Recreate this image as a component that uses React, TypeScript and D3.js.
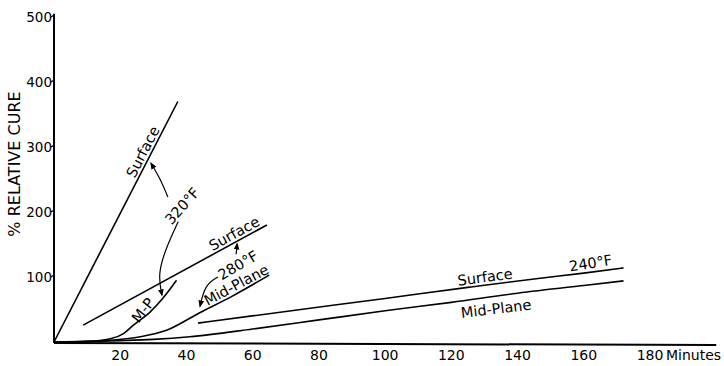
import React, { useEffect, useRef } from "react";
import * as d3 from "d3";

// time in minutes, % relative cure
const xTicks = [20, 40, 60, 80, 100, 120, 140, 160, 180];
const yTicks = [100, 200, 300, 400, 500];

const surface320 = [[0, 0], [37.4, 370]];
const midPlane320 = [[0, 0], [10, 1], [17, 5], [21, 13], [24, 26], [29, 46], [33, 68], [37, 95]];
const surface280 = [[8.8, 26], [64.3, 180]];
const midPlane280 = [[0, 0], [10, 1], [18, 3], [26, 8], [34, 18], [44, 45], [54, 71], [65, 103]];
const surface240 = [[43.5, 29], [70, 47], [100, 67], [125, 84], [145, 97], [160, 106], [172, 114]];
const midPlane240 = [[5, 0], [20, 2], [30, 4], [41, 8], [60, 20], [80, 34], [100, 48], [120, 61], [140, 75], [160, 87], [172, 94]];

// labels: [minutes, %, text, rotation, baseline shift]
const labels = [
  [29, 287, "Surface", -62.8, -3],
  [38.7, 209, "320°F", -48, 5],
  [26.9, 49, "M-P", -52, 5],
  [55.6, 156, "Surface", -28.5, -3],
  [55.6, 118, "280°F", -30, 5],
  [56.2, 77, "Mid-Plane", -28, -3],
  [130.5, 87.6, "Surface", -7.5, -3],
  [162.5, 107.5, "240°F", -9, -4],
  [133.5, 51, "Mid-Plane", -7, 5],
];

// pointer arrows, each from label to curve
const arrows = [
  [[34.4, 223], [32, 252], [29.3, 275]],
  [[37.5, 185], [33.5, 141], [31.4, 103], [32.6, 72]],
  [[55, 135], [55.3, 151]],
  [[49.5, 100], [45.6, 88], [44.1, 55]],
];

export default function App() {
  const ref = useRef<SVGSVGElement>(null);

  useEffect(() => {
    const svg = d3.select(ref.current);
    svg.selectAll("*").remove();

    const x = d3.scaleLinear().domain([0, 180]).range([54, 650]);
    const y = d3.scaleLinear().domain([0, 500]).range([342, 17]);
    const font = "'DejaVu Sans', sans-serif";

    svg.append("defs").append("marker")
      .attr("id", "head")
      .attr("viewBox", "0 0 10 10")
      .attr("refX", 8).attr("refY", 5)
      .attr("markerWidth", 6).attr("markerHeight", 6)
      .attr("orient", "auto")
      .append("path").attr("d", "M0,1 L10,5 L0,9 Z").attr("fill", "#000");

    // axes
    svg.append("line")
      .attr("x1", x(0)).attr("x2", x(0))
      .attr("y1", y(0) + 1).attr("y2", y(505))
      .attr("stroke", "#000").attr("stroke-width", 2);
    svg.append("line")
      .attr("x1", x(0)).attr("x2", x(200))
      .attr("y1", y(0) + 1).attr("y2", y(0) + 3)
      .attr("stroke", "#000").attr("stroke-width", 2);

    const yt = svg.append("g");
    yTicks.forEach((v) => {
      yt.append("line")
        .attr("x1", x(0) - 3).attr("x2", x(0))
        .attr("y1", y(v)).attr("y2", y(v) - 2)
        .attr("stroke", "#000").attr("stroke-width", 1.2);
      yt.append("text")
        .attr("x", x(0) - 2).attr("y", y(v) + 5)
        .attr("text-anchor", "end")
        .attr("font-family", font).attr("font-size", 13.5)
        .text(v);
    });

    xTicks.forEach((v) => {
      svg.append("text")
        .attr("x", x(v)).attr("y", 360)
        .attr("text-anchor", "middle")
        .attr("font-family", font).attr("font-size", 14)
        .text(v);
    });
    svg.append("text")
      .attr("x", x(180) + 16).attr("y", 360)
      .attr("font-family", font).attr("font-size", 14)
      .text("Minutes");

    svg.append("text")
      .attr("transform", `translate(20,${164}) rotate(-90)`)
      .attr("text-anchor", "middle")
      .attr("font-family", font).attr("font-size", 16)
      .text("% RELATIVE CURE");

    // curves
    const line = d3.line<number[]>()
      .x((d) => x(d[0]))
      .y((d) => y(d[1]))
      .curve(d3.curveMonotoneX);

    [surface320, midPlane320, surface280, midPlane280, surface240, midPlane240].forEach((s) => {
      svg.append("path")
        .attr("d", line(s))
        .attr("fill", "none")
        .attr("stroke", "#000")
        .attr("stroke-width", 1.6);
    });

    const arrowLine = d3.line<number[]>()
      .x((d) => x(d[0]))
      .y((d) => y(d[1]))
      .curve(d3.curveBasis);

    arrows.forEach((a) => {
      svg.append("path")
        .attr("d", arrowLine(a))
        .attr("fill", "none")
        .attr("stroke", "#000")
        .attr("stroke-width", 1.2)
        .attr("marker-end", "url(#head)");
    });

    labels.forEach(([m, p, t, r, dy]) => {
      svg.append("text")
        .attr("transform", `translate(${x(m as number)},${y(p as number)}) rotate(${r})`)
        .attr("y", dy as number)
        .attr("text-anchor", "middle")
        .attr("font-family", font).attr("font-size", 14.5)
        .text(t as string);
    });
  }, []);

  return (
    <svg
      ref={ref}
      width={724}
      height={366}
      style={{ position: "absolute", left: 0, top: 0, background: "#fff" }}
    />
  );
}
